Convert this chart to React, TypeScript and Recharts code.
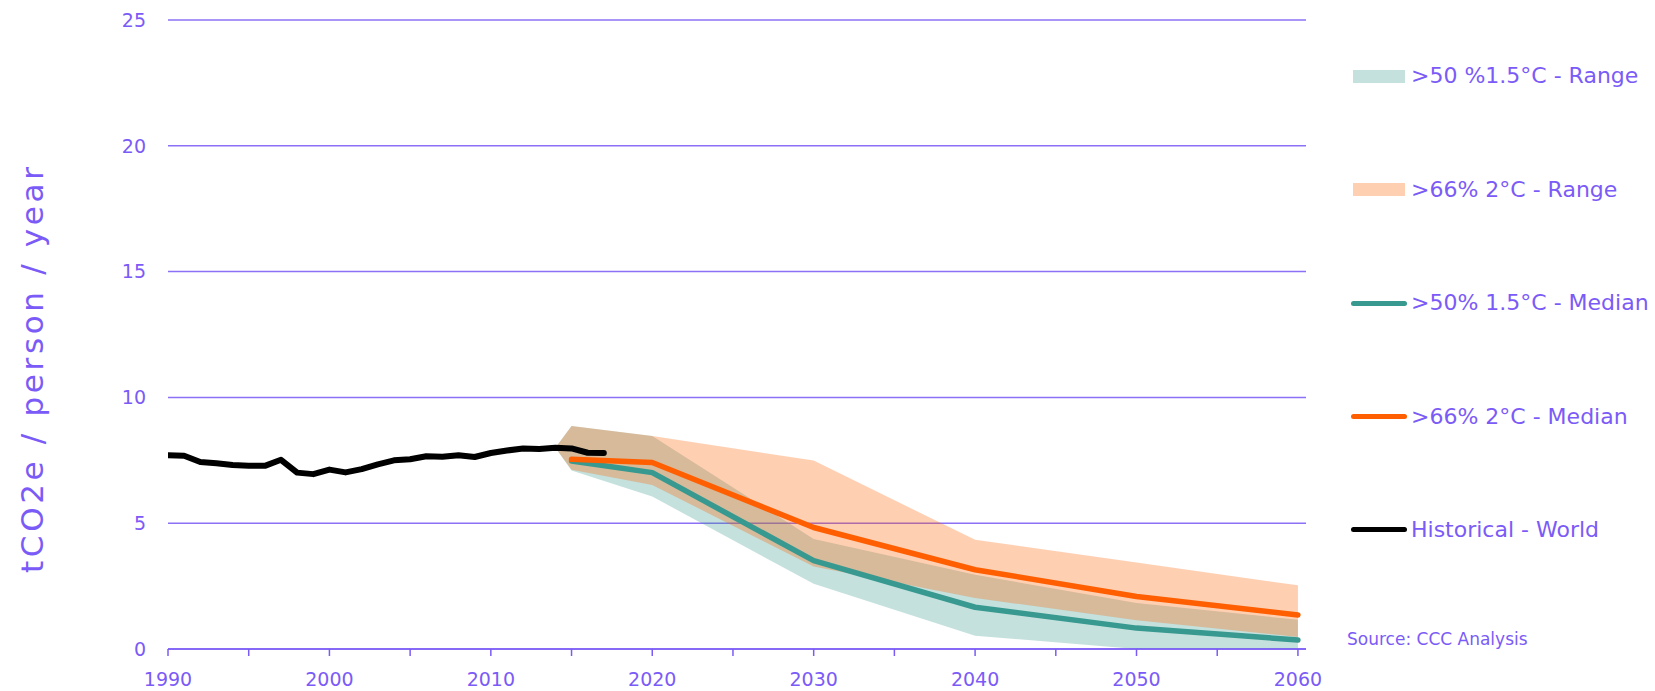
import React from 'react';
import { ComposedChart, Line, Area, XAxis, YAxis, CartesianGrid } from 'recharts';

// ---- data ----
const historyYears = [1990, 1991, 1992, 1993, 1994, 1995, 1996, 1997, 1998, 1999, 2000, 2001, 2002, 2003, 2004, 2005, 2006, 2007, 2008, 2009, 2010, 2011, 2012, 2013, 2014, 2015, 2016, 2017];
const historyValues = [7.70, 7.68, 7.43, 7.38, 7.31, 7.28, 7.28, 7.52, 7.01, 6.95, 7.13, 7.02, 7.15, 7.34, 7.50, 7.54, 7.66, 7.64, 7.70, 7.63, 7.79, 7.89, 7.97, 7.95, 8.00, 7.97, 7.80, 7.79];

const projYears = [2014, 2015, 2020, 2030, 2040, 2050, 2060];
const tealMedian: (number | null)[] = [null, 7.47, 7.01, 3.51, 1.66, 0.83, 0.36];
const orangeMedian: (number | null)[] = [null, 7.54, 7.41, 4.83, 3.15, 2.09, 1.35];
const tealLow = [8.0, 7.09, 6.06, 2.59, 0.53, 0.0, 0.0];
const tealHigh = [8.0, 8.86, 8.47, 4.37, 2.95, 1.83, 1.16];
const orangeLow = [8.0, 7.12, 6.52, 3.28, 2.03, 1.14, 0.48];
const orangeHigh = [8.0, 8.86, 8.47, 7.49, 4.34, 3.44, 2.53];

const xTicks = [1990, 1995, 2000, 2005, 2010, 2015, 2020, 2025, 2030, 2035, 2040, 2045, 2050, 2055, 2060];
const yTicks = [0, 5, 10, 15, 20, 25];

const legendLabels = ['>50 %1.5°C - Range', '>66% 2°C - Range', '>50% 1.5°C - Median', '>66% 2°C - Median', 'Historical - World'];
const yAxisTitle = 'tCO2e / person / year';
const sourceText = 'Source: CCC Analysis';

// ---- styles ----
const TEXT = '#7B5BF7';
const GRID = '#8C70F6';
const TEAL = '#379990';
const ORANGE = '#FF5F00';
const FONT = '"DejaVu Sans", sans-serif';

const historyRows = historyYears.map((year, i) => ({ year, hist: historyValues[i] }));
const projRows = projYears.map((year, i) => ({
  year,
  tealMed: tealMedian[i],
  orangeMed: orangeMedian[i],
  tealRange: [tealLow[i], tealHigh[i]],
  orangeRange: [orangeLow[i], orangeHigh[i]],
}));
const medianRows = projRows.filter((r) => r.tealMed != null);

const XTick = (props: any) => {
  const { x, y, payload } = props;
  if (payload.value % 10 !== 0) return <g />;
  return (
    <text x={x} y={y} dy="0.71em" textAnchor="middle" fill={TEXT} fontSize={19} fontFamily={FONT}>
      {payload.value}
    </text>
  );
};

const YTitle = () => (
  <text
    transform="translate(43, 370) rotate(-90)"
    x={0}
    y={0}
    textAnchor="middle"
    fill={TEXT}
    fontSize={31}
    fontFamily={FONT}
    textLength={406}
    lengthAdjust="spacing"
  >
    {yAxisTitle}
  </text>
);

const legendKinds = [
  { kind: 'rect', color: 'rgba(58,154,144,0.3)' },
  { kind: 'rect', color: 'rgba(255,95,0,0.3)' },
  { kind: 'line', color: TEAL },
  { kind: 'line', color: ORANGE },
  { kind: 'line', color: '#000000' },
];

export default function App() {
  return (
    <div style={{ position: 'absolute', left: 0, top: 0, width: 1655, height: 691, background: '#fff', fontFamily: FONT }}>
      <ComposedChart width={1655} height={691} margin={{ top: 20, right: 349, bottom: 12, left: 108 }}>
        <CartesianGrid horizontal vertical={false} stroke={GRID} strokeWidth={1.5} />
        <XAxis
          dataKey="year"
          type="number"
          domain={[1990, 2060.5]}
          ticks={xTicks}
          allowDataOverflow
          height={30}
          axisLine={{ stroke: TEXT, strokeWidth: 1.5 }}
          tickLine={{ stroke: TEXT, strokeWidth: 1.5 }}
          tickSize={7}
          tickMargin={17}
          tick={<XTick />}
          interval={0}
        />
        <YAxis
          type="number"
          domain={[0, 25]}
          ticks={yTicks}
          width={60}
          axisLine={false}
          tickLine={false}
          tickSize={0}
          tickMargin={22}
          tick={{ fill: TEXT, fontSize: 19, fontFamily: FONT }}
          interval={0}
          label={<YTitle />}
        />
        <Area
          data={projRows}
          dataKey="tealRange"
          type="linear"
          stroke="none"
          fill="#3A9A90"
          fillOpacity={0.3}
          isAnimationActive={false}
          dot={false}
          activeDot={false}
        />
        <Area
          data={projRows}
          dataKey="orangeRange"
          type="linear"
          stroke="none"
          fill={ORANGE}
          fillOpacity={0.3}
          isAnimationActive={false}
          dot={false}
          activeDot={false}
        />
        <Line
          data={medianRows}
          dataKey="tealMed"
          type="linear"
          stroke={TEAL}
          strokeWidth={5.5}
          strokeLinecap="round"
          strokeLinejoin="round"
          dot={false}
          activeDot={false}
          isAnimationActive={false}
        />
        <Line
          data={medianRows}
          dataKey="orangeMed"
          type="linear"
          stroke={ORANGE}
          strokeWidth={5.5}
          strokeLinecap="round"
          strokeLinejoin="round"
          dot={false}
          activeDot={false}
          isAnimationActive={false}
        />
        <Line
          data={historyRows}
          dataKey="hist"
          type="linear"
          stroke="#000000"
          strokeWidth={6}
          strokeLinecap="round"
          strokeLinejoin="round"
          dot={false}
          activeDot={false}
          isAnimationActive={false}
        />
      </ComposedChart>

      {legendLabels.map((label, i) => {
        const k = legendKinds[i];
        return (
          <div
            key={label}
            style={{
              position: 'absolute',
              left: 1351,
              top: 76.3 + i * 113.4 - 15,
              height: 30,
              display: 'flex',
              alignItems: 'center',
              whiteSpace: 'nowrap',
            }}
          >
            <div style={{ width: 60, height: 30, position: 'relative' }}>
              {k.kind === 'rect' ? (
                <div style={{ position: 'absolute', left: 2, top: 8.5, width: 52, height: 13, background: k.color }} />
              ) : (
                <div style={{ position: 'absolute', left: 0, top: 12.5, width: 56, height: 5, borderRadius: 3, background: k.color }} />
              )}
            </div>
            <span style={{ color: TEXT, fontSize: 22, lineHeight: '30px', fontFamily: FONT }}>{label}</span>
          </div>
        );
      })}

      <div
        style={{
          position: 'absolute',
          left: 1347,
          top: 629,
          fontSize: 17,
          lineHeight: '20px',
          color: TEXT,
          fontFamily: FONT,
          whiteSpace: 'nowrap',
        }}
      >
        {sourceText}
      </div>
    </div>
  );
}
